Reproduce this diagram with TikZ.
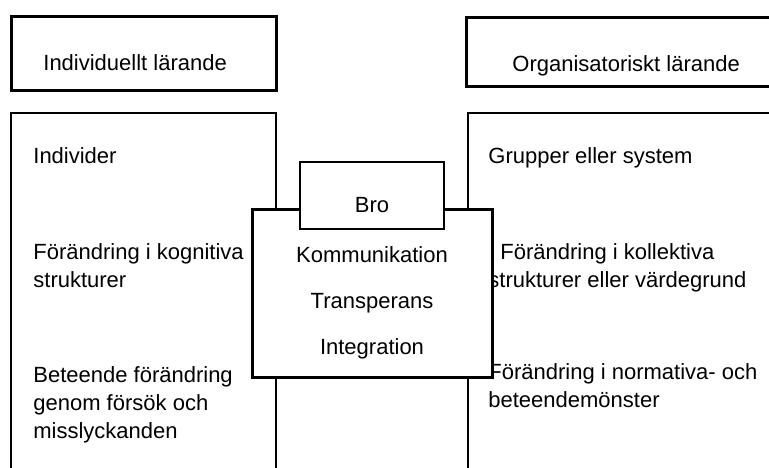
\documentclass[tikz,border=0pt]{standalone}
\usepackage{fontspec}
\setmainfont{Liberation Sans}
\begin{document}
\begin{tikzpicture}[x=0.5pt,y=-0.5pt,
  tunn/.style={draw,line width=0.8pt},
  tjock/.style={draw,line width=1.5pt},
  txt/.style={anchor=base west,inner sep=0pt,align=left,font=\fontsize{11}{14}\selectfont},
  mitt/.style={anchor=base,inner sep=0pt,font=\fontsize{11}{14}\selectfont}]
\useasboundingbox (0,0) rectangle (769,467);
\clip (0,0) rectangle (769,467);

\draw [tjock](11,16) rectangle (276,90);
\draw [tjock](466,17) rectangle (800,86);
\node [txt](indtitel) at (43,70){Individuellt lärande};
\node [txt](orgtitel) at (512,71){Organisatoriskt lärande};

\draw [tunn](11,113) rectangle (276,500);
\draw [tunn](468,113) rectangle (800,500);

\node [txt](individer) at (33,163){Individer};
\node [txt](kognitiva) at (33,287){Förändring i kognitiva\\strukturer};
\node [txt](beteende) at (33,438){Beteende förändring\\genom försök och\\misslyckanden};
\node [txt](grupper) at (488,163){Grupper eller system};
\node [txt](kollektiva) at (488,287){\hspace{6pt}Förändring i kollektiva\\strukturer eller värdegrund};
\node [txt](normativa) at (488,407){Förändring i normativa- och\\beteendemönster};

\draw [tjock, fill=white](252,209) rectangle (492,377);
\draw [tunn, fill=white](300,162) rectangle (444,229);
\node [mitt](bro) at (372,212){Bro};
\node [mitt](kommunikation) at (372,262){Kommunikation};
\node [mitt](transperans) at (372,308){Transperans};
\node [mitt](integration) at (372,354){Integration};
\end{tikzpicture}
\end{document}
